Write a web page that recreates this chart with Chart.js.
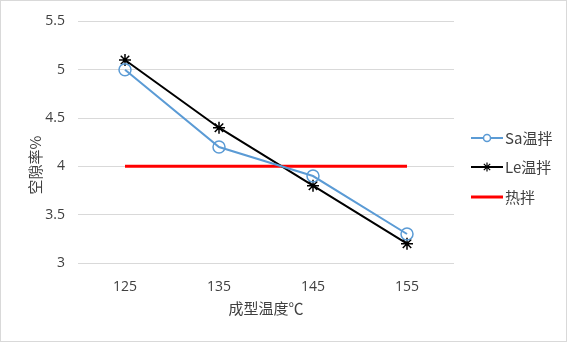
<!DOCTYPE html>
<html>
<head>
<meta charset="utf-8">
<script src="https://cdn.jsdelivr.net/npm/chart.js@4"></script>
<style>
  html, body { margin: 0; padding: 0; background: #fff; }
  #wrap { width: 567px; height: 342px; position: relative; }
</style>
</head>
<body>
<div id="wrap"><canvas id="voidChart"></canvas></div>
<script>
// categories and series
const temps = ['125', '135', '145', '155'];
const saWarm = [5.0, 4.2, 3.9, 3.3];
const leWarm = [5.1, 4.4, 3.8, 3.2];
const hotMix = [4, 4, 4, 4];
const yTicks = [3, 3.5, 4, 4.5, 5, 5.5];

const cjk = '"Noto Sans CJK SC", "Noto Sans", sans-serif';
const latin = '"Open Sans", "Noto Sans", sans-serif';

// axis titles, legend and outer frame drawn by hand, Excel style
const decor = {
    id: 'decor',
    afterDraw(chart) {
        const ctx = chart.ctx;
        const area = chart.chartArea;
        ctx.save();

        ctx.strokeStyle = '#d9d9d9';
        ctx.lineWidth = 1;
        ctx.strokeRect(0.5, 0.5, chart.width - 1, chart.height - 1);

        ctx.fillStyle = '#404040';
        ctx.font = '15px ' + cjk;
        ctx.textAlign = 'center';
        ctx.textBaseline = 'middle';
        ctx.fillText('成型温度℃', (area.left + area.right) / 2, 308);

        ctx.save();
        ctx.translate(35, 165);
        ctx.rotate(-Math.PI / 2);
        ctx.fillText('空隙率%', 0, 0);
        ctx.restore();

        const rows = [138, 167, 197];
        chart.data.datasets.forEach((ds, i) => {
            const y = rows[i];
            ctx.strokeStyle = ds.borderColor;
            ctx.lineWidth = ds.borderWidth;
            ctx.beginPath();
            ctx.moveTo(471, y);
            ctx.lineTo(503, y);
            ctx.stroke();
            if (ds.pointStyle === 'circle') {
                ctx.fillStyle = '#fff';
                ctx.lineWidth = 1.5;
                ctx.beginPath();
                ctx.arc(487, y, 3.5, 0, Math.PI * 2);
                ctx.fill();
                ctx.stroke();
            } else if (ds.pointStyle === 'star') {
                ctx.lineWidth = 1.2;
                Chart.helpers.drawPoint(ctx, {
                    pointStyle: 'star',
                    radius: 4.5,
                    borderWidth: 1.2,
                    rotation: 0
                }, 487, y);
            }
            ctx.fillStyle = '#404040';
            ctx.font = '15px ' + cjk;
            ctx.textAlign = 'left';
            ctx.fillText(ds.label, 505, y);
        });

        ctx.restore();
    }
};

new Chart(document.getElementById('voidChart'), {
    type: 'line',
    data: {
        labels: temps,
        datasets: [
            {
                label: 'Sa温拌',
                data: saWarm,
                borderColor: '#5b9bd5',
                backgroundColor: '#ffffff',
                borderWidth: 2,
                pointStyle: 'circle',
                pointRadius: 6,
                pointBorderWidth: 1.5,
                pointBackgroundColor: 'rgba(255,255,255,0)',
                pointBorderColor: '#5b9bd5'
            },
            {
                label: 'Le温拌',
                data: leWarm,
                borderColor: '#000000',
                backgroundColor: '#000000',
                borderWidth: 2,
                pointStyle: 'star',
                pointRadius: 6,
                pointBorderWidth: 1.5,
                pointBorderColor: '#000000'
            },
            {
                label: '热拌',
                data: hotMix,
                borderColor: '#ff0000',
                backgroundColor: '#ff0000',
                borderWidth: 3,
                pointRadius: 0
            }
        ]
    },
    options: {
        responsive: true,
        maintainAspectRatio: false,
        animation: false,
        layout: { padding: { top: 19, right: 113, left: 0, bottom: 0 } },
        plugins: {
            legend: { display: false },
            tooltip: { enabled: false }
        },
        scales: {
            x: {
                offset: true,
                grid: { display: false },
                border: { display: false },
                ticks: {
                    color: '#404040',
                    font: { family: latin, size: 14 },
                    padding: 8
                },
                afterFit(scale) { scale.height = 79; }
            },
            y: {
                min: 3,
                max: 5.5,
                afterBuildTicks(scale) {
                    scale.ticks = yTicks.map(v => ({ value: v }));
                },
                grid: { color: '#d9d9d9', lineWidth: 1, drawTicks: false },
                border: { display: false },
                ticks: {
                    color: '#404040',
                    font: { family: latin, size: 14 },
                    padding: 13,
                    callback: v => String(v)
                },
                afterFit(scale) { scale.width = 78; }
            }
        }
    },
    plugins: [decor]
});
</script>
</body>
</html>
